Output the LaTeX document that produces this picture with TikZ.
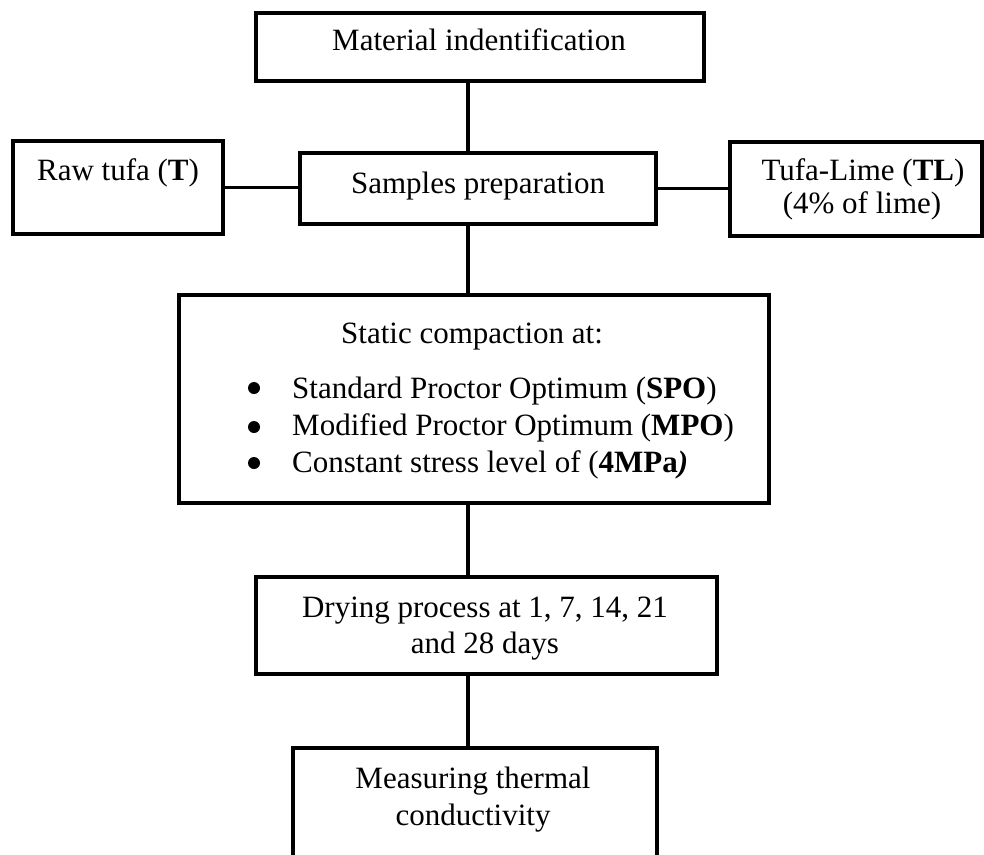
\documentclass[tikz,border=0pt]{standalone}
\usepackage{fontspec}
\setmainfont{Liberation Serif}
\tikzset{
  box/.style={draw, line width=3.2pt, minimum width=#1, inner sep=0pt},
  txt/.style={anchor=base, inner sep=0pt, font=\fontsize{31}{36}\selectfont},
  dot/.style={circle, fill=black, inner sep=0pt, minimum size=12pt},
  conn/.style={line width=3.2pt}
}
\begin{document}
\begin{tikzpicture}[x=1pt,y=-1pt]
\useasboundingbox (0,0) rectangle (984,854);
% boxes
\node[box=448pt, minimum height=68pt] (mat) at (480,47) {};
\node[box=210pt, minimum height=93pt] (raw) at (118,187.5) {};
\node[box=356pt, minimum height=71pt] (samp) at (478,188.5) {};
\node[box=252pt, minimum height=94pt] (tl) at (856,189) {};
\node[box=590pt, minimum height=208pt] (stat) at (474,399) {};
\node[box=461pt, minimum height=97pt] (dry) at (486.5,625.5) {};
\node[box=364pt, minimum height=140pt] (meas) at (475,818) {};
% texts
\node[txt] (tmat) at (479,50) {Material indentification};
\node[txt] (traw) at (118,180) {Raw tufa (\textbf{T})};
\node[txt] (tsamp) at (478,193) {Samples preparation};
\node[txt] (ttl1) at (863,180) {Tufa-Lime (\textbf{TL})};
\node[txt] (ttl2) at (862,213) {(4\% of lime)};
\node[txt] (tstat) at (472,343) {Static compaction at:};
\node[txt, anchor=base west] (b1) at (292,398) {Standard Proctor Optimum (\textbf{SPO})};
\node[txt, anchor=base west] (b2) at (292,435) {Modified Proctor Optimum (\textbf{MPO})};
\node[txt, anchor=base west] (b3) at (292,472) {Constant stress level of (\textbf{4MPa}\textbf{\textit{)}}};
\node[dot] (d1) at (254,388) {};
\node[dot] (d2) at (254,427) {};
\node[dot] (d3) at (254,463) {};
\node[txt] (tdry1) at (485,617) {Drying process at 1, 7, 14, 21};
\node[txt] (tdry2) at (485,653) {and 28 days};
\node[txt] (tmeas1) at (473,788) {Measuring thermal};
\node[txt] (tmeas2) at (473,825) {conductivity};
% connectors
\coordinate (spine) at (468,0);
\draw[conn] (spine |- mat.south) -- (spine |- samp.north);
\draw[conn] (spine |- samp.south) -- (spine |- stat.north);
\draw[conn] (spine |- stat.south) -- (spine |- dry.north);
\draw[conn] (spine |- dry.south) -- (spine |- meas.north);
\draw[conn] (raw.east) -- (raw.east -| samp.west);
\draw[conn] (samp.east) -- (samp.east -| tl.west);
\end{tikzpicture}
\end{document}
